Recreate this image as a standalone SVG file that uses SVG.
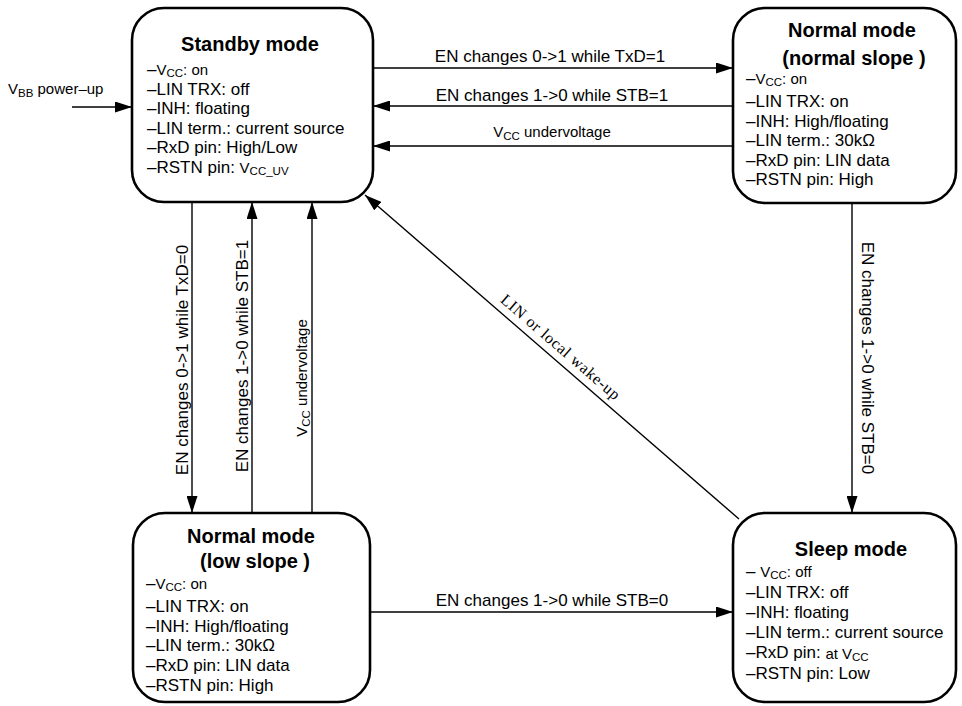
<svg xmlns="http://www.w3.org/2000/svg" width="962" height="706" viewBox="0 0 962 706">
<defs>
<marker id="ah" markerUnits="userSpaceOnUse" markerWidth="18" markerHeight="11" refX="17" refY="5.5" orient="auto">
<path d="M0,0 L17,5.5 L0,11 z" fill="#000"/>
</marker>
<style>
.box{fill:#fff;stroke:#000;stroke-width:2.6}
.t{font-family:"Liberation Sans",Arial,sans-serif;font-size:20px;font-weight:bold;text-anchor:middle;fill:#000}
.b{font-family:"Liberation Sans",Arial,sans-serif;font-size:17px;fill:#000}
.s{font-size:15px}
.sub{font-size:11.5px}
.e{font-family:"Liberation Sans",Arial,sans-serif;font-size:17px;fill:#000;text-anchor:middle}
.c{fill:none;stroke:#000;stroke-width:1.4;marker-end:url(#ah)}
.w{font-family:"Liberation Serif","Times New Roman",serif;font-size:16px;fill:#000}
</style>
</defs>
<rect width="962" height="706" fill="#fff"/>

<g id="connectors">
<line class="c" x1="72" y1="107" x2="132" y2="107"/>
<line class="c" x1="373" y1="68" x2="733" y2="68"/>
<line class="c" x1="733" y1="106" x2="373" y2="106"/>
<line class="c" x1="733" y1="146" x2="373" y2="146"/>
<line class="c" x1="192" y1="202" x2="192" y2="513"/>
<line class="c" x1="252" y1="513" x2="252" y2="202"/>
<line class="c" x1="312" y1="513" x2="312" y2="202"/>
<line class="c" x1="852" y1="203" x2="852" y2="513"/>
<line class="c" x1="370" y1="612" x2="733" y2="612"/>
<line class="c" x1="739" y1="519" x2="365" y2="195"/>

<text class="b s" x="8" y="94">V<tspan class="sub" dy="3">BB</tspan><tspan dy="-3"> power–up</tspan></text>
<text class="e" x="550" y="62">EN changes 0-&gt;1 while TxD=1</text>
<text class="e" x="552" y="101">EN changes 1-&gt;0 while STB=1</text>
<text class="e" x="552" y="137"><tspan class="s">V</tspan><tspan class="sub" dy="3">CC</tspan><tspan class="s" dy="-3"> undervoltage</tspan></text>
<text class="e" x="552" y="606">EN changes 1-&gt;0 while STB=0</text>
<text class="e" transform="translate(188,360) rotate(-90)">EN changes 0-&gt;1 while TxD=0</text>
<text class="e" transform="translate(248,356) rotate(-90)">EN changes 1-&gt;0 while STB=1</text>
<text class="e" transform="translate(307,378) rotate(-90)"><tspan class="s">V</tspan><tspan class="sub" dy="3">CC</tspan><tspan class="s" dy="-3"> undervoltage</tspan></text>
<text class="e" transform="translate(862,358) rotate(90)">EN changes 1-&gt;0 while STB=0</text>
<text class="w" text-anchor="middle" textLength="152" lengthAdjust="spacing" transform="translate(557,351) rotate(40.9)">LIN or local wake-up</text>
</g>

<g id="standby">
<rect class="box" x="132" y="8" width="241" height="194" rx="32"/>
<text class="t" x="250" y="51">Standby mode</text>
<text class="b" x="147" y="75">–<tspan class="s">V</tspan><tspan class="sub" dy="2">CC</tspan><tspan class="s" dy="-2">: on</tspan></text>
<text class="b" x="147" y="94.5">–LIN TRX: off</text>
<text class="b" x="147" y="114">–INH: floating</text>
<text class="b" x="147" y="133.5">–LIN term.: current source</text>
<text class="b" x="147" y="153">–RxD pin: High/Low</text>
<text class="b" x="147" y="172.5">–RSTN pin: <tspan class="s">V</tspan><tspan class="sub" dy="2">CC_UV</tspan></text>
</g>

<g id="normal-normal-slope">
<rect class="box" x="733" y="8" width="223" height="195" rx="32"/>
<text class="t" x="852" y="37">Normal mode</text>
<text class="t" x="854" y="65">(normal slope )</text>
<text class="b" x="746" y="84">–<tspan class="s">V</tspan><tspan class="sub" dy="2">CC</tspan><tspan class="s" dy="-2">: on</tspan></text>
<text class="b" x="746" y="107">–LIN TRX: on</text>
<text class="b" x="746" y="126.5">–INH: High/floating</text>
<text class="b" x="746" y="146">–LIN term.: 30kΩ</text>
<text class="b" x="746" y="165.5">–RxD pin: LIN data</text>
<text class="b" x="746" y="185">–RSTN pin: High</text>
</g>

<g id="normal-low-slope">
<rect class="box" x="133" y="513" width="237" height="189" rx="32"/>
<text class="t" x="251" y="543">Normal mode</text>
<text class="t" x="255" y="568">(low slope )</text>
<text class="b" x="146" y="589">–<tspan class="s">V</tspan><tspan class="sub" dy="2">CC</tspan><tspan class="s" dy="-2">: on</tspan></text>
<text class="b" x="146" y="612">–LIN TRX: on</text>
<text class="b" x="146" y="631.5">–INH: High/floating</text>
<text class="b" x="146" y="651">–LIN term.: 30kΩ</text>
<text class="b" x="146" y="671">–RxD pin: LIN data</text>
<text class="b" x="146" y="691">–RSTN pin: High</text>
</g>

<g id="sleep">
<rect class="box" x="733" y="513" width="223" height="189" rx="32"/>
<text class="t" x="851" y="556">Sleep mode</text>
<text class="b" x="746" y="577">– <tspan class="s">V</tspan><tspan class="sub" dy="2">CC</tspan><tspan class="s" dy="-2">: off</tspan></text>
<text class="b" x="746" y="598">–LIN TRX: off</text>
<text class="b" x="746" y="618">–INH: floating</text>
<text class="b" x="746" y="638">–LIN term.: current source</text>
<text class="b" x="746" y="658">–RxD pin: <tspan class="s" dy="1">at V</tspan><tspan class="sub" dy="2">CC</tspan></text>
<text class="b" x="746" y="679">–RSTN pin: Low</text>
</g>
</svg>
